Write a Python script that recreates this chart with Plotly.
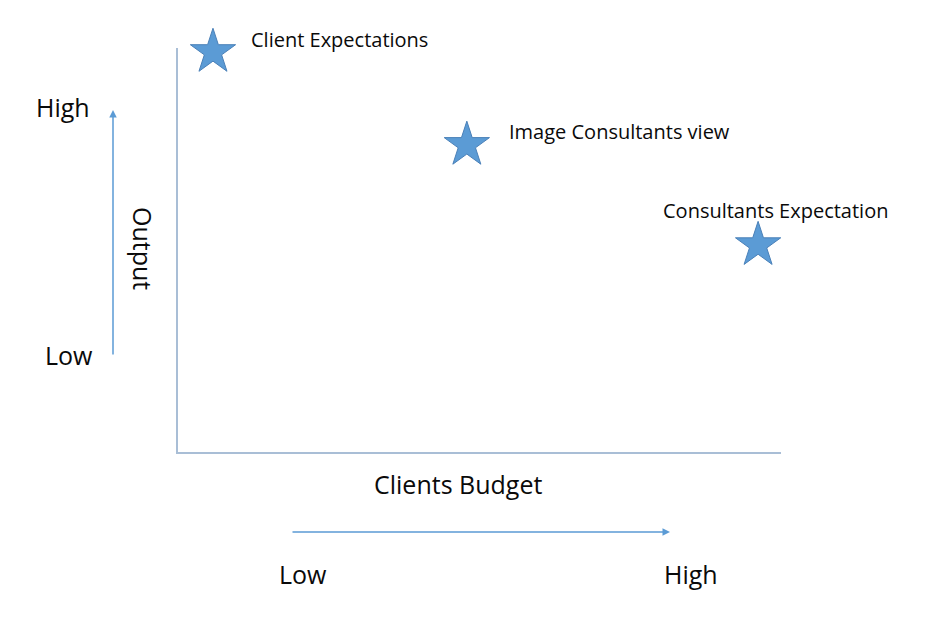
import plotly.graph_objects as go

# Data (conceptual 0-10 scales)
labels = ["Client Expectations", "Image Consultants view", "Consultants Expectation"]
budget = [0.58, 4.79, 9.62]
output = [9.9, 7.6, 5.12]

W, H = 944, 620
L, R, T, B = 178, 944 - 781, 48, 620 - 452
PW, PH = W - L - R, H - T - B

def px(xp):
    return (xp - L) / PW

def py(yp):
    return (H - B - yp) / PH

FONT = "Open Sans"
BLUE = "#5b9bd5"
AXC = "#a9bed6"

fig = go.Figure()
fig.add_trace(go.Scatter(
    x=budget, y=output, mode="markers",
    marker=dict(symbol="star", size=34, color=BLUE,
                line=dict(color="#4a80b8", width=1)),
    cliponaxis=False, hoverinfo="skip", showlegend=False,
))

ann = []
# star labels
lab_pos = [(249, 40), (507, 131), (661, 210)]
for t, (xp, yp) in zip(labels, lab_pos):
    ann.append(dict(text=t, x=px(xp), y=py(yp), xref="paper", yref="paper",
                    xanchor="left", yanchor="middle", showarrow=False,
                    font=dict(family=FONT, size=20, color="#0a0a0a")))

big = dict(family=FONT, size=25, color="#0a0a0a")
for t, xp, yp, ang in [("High", 63, 107, 0), ("Low", 69, 355, 0),
                       ("Output", 143, 248, 90), ("Clients Budget", 458, 484, 0),
                       ("Low", 303, 574, 0), ("High", 691, 574, 0)]:
    ann.append(dict(text=t, x=px(xp), y=py(yp), xref="paper", yref="paper",
                    xanchor="center", yanchor="middle", showarrow=False,
                    textangle=ang, font=big))

# arrows
ann.append(dict(x=px(113), y=py(110), xref="paper", yref="paper", text="",
                showarrow=True, ax=0, ay=246, axref="pixel", ayref="pixel",
                arrowhead=2, arrowsize=1, arrowwidth=1.5, arrowcolor=BLUE))
ann.append(dict(x=px(670), y=py(532), xref="paper", yref="paper", text="",
                showarrow=True, ax=-379, ay=0, axref="pixel", ayref="pixel",
                arrowhead=2, arrowsize=1, arrowwidth=1.5, arrowcolor=BLUE))

fig.update_layout(
    width=W, height=H,
    margin=dict(l=L, r=R, t=T, b=B),
    paper_bgcolor="white", plot_bgcolor="white",
    xaxis=dict(range=[0, 10], showgrid=False, zeroline=False, showticklabels=False,
               ticks="", showline=True, linecolor=AXC, linewidth=1.5),
    yaxis=dict(range=[0, 10], showgrid=False, zeroline=False, showticklabels=False,
               ticks="", showline=True, linecolor=AXC, linewidth=1.5),
    annotations=ann,
)

fig.write_html("out.html")
